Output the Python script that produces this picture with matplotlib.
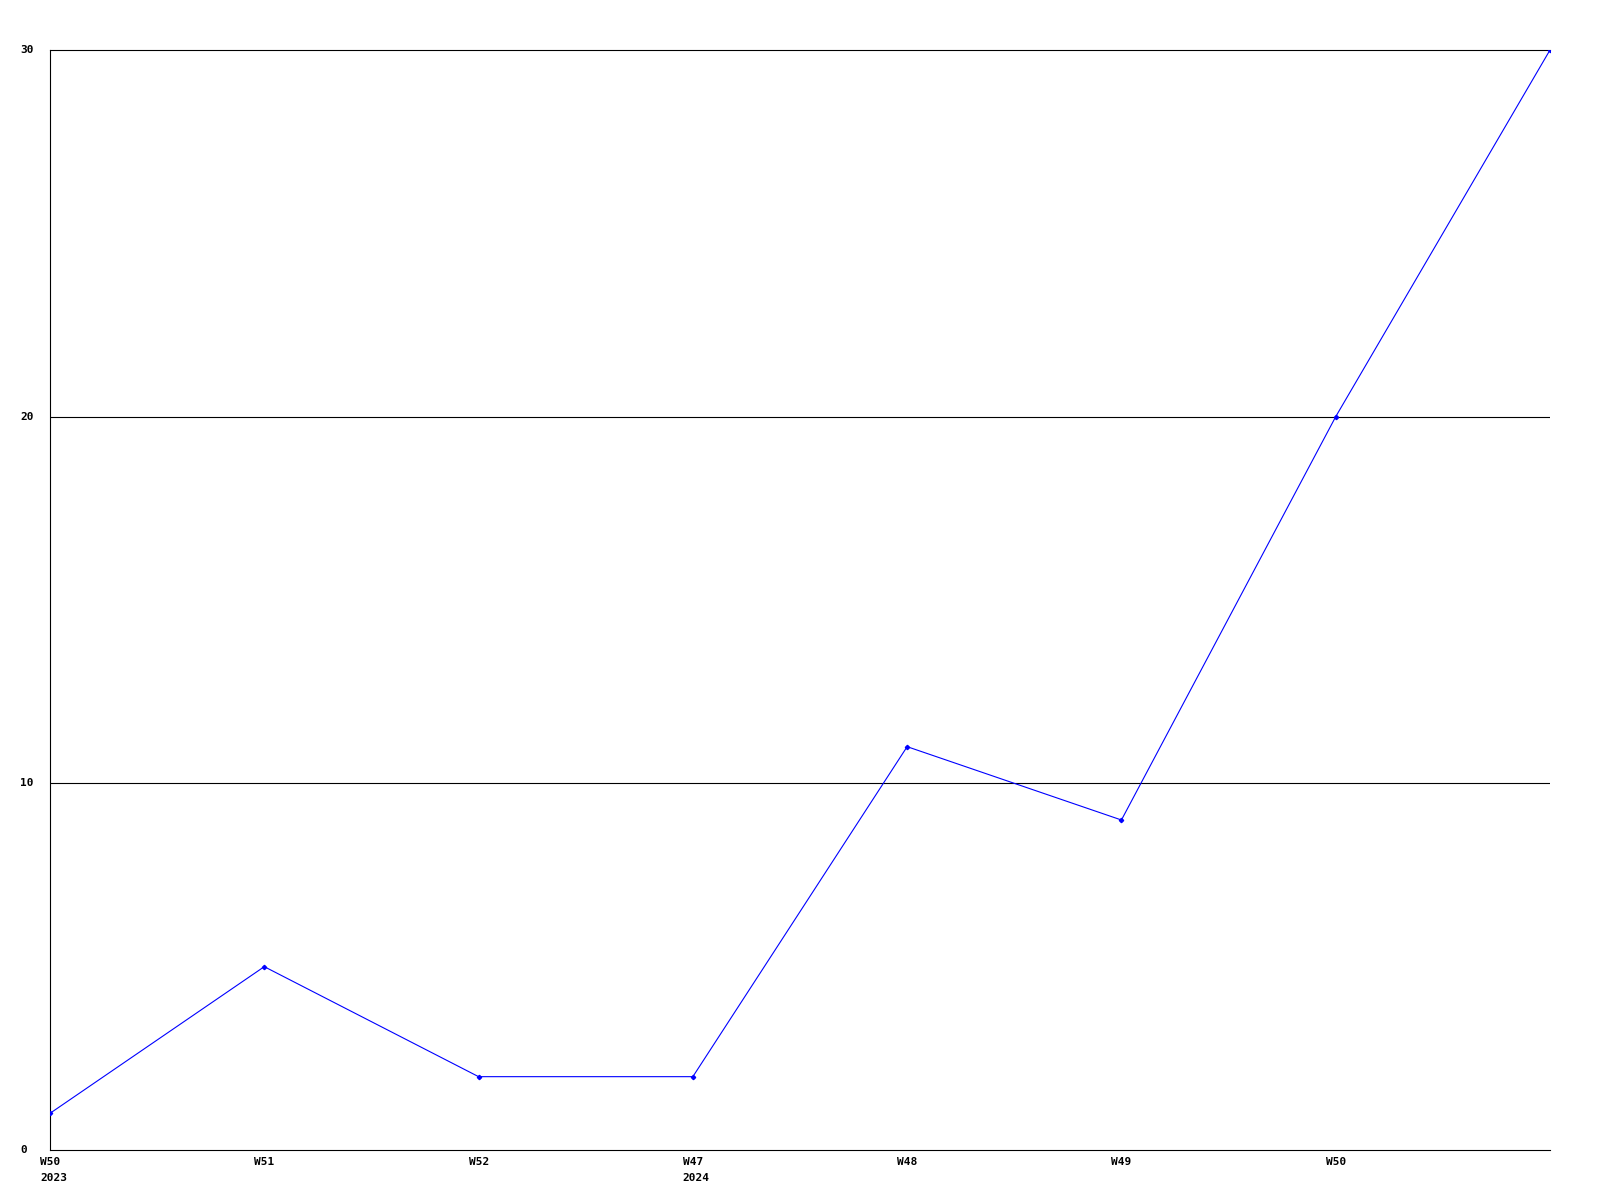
import matplotlib
matplotlib.use("Agg")
import matplotlib.pyplot as plt
import matplotlib.transforms as mtransforms

# ==========================================================
# DATA
# ==========================================================

week_labels = ["W50\n2023", "W51", "W52", "W47\n2024", "W48", "W49", "W50", ""]
values = [1, 5, 2, 2, 11, 9, 20, 30]
y_ticks = [0, 10, 20, 30]

W, H = 1600, 1200

# ==========================================================
# FIGURE
# ==========================================================

fig = plt.figure(figsize=(16, 12), dpi=100)
ax = fig.add_axes([50 / W, 1 - 1150 / H, 1500 / W, 1100 / H])

x = list(range(len(values)))

ax.plot(x, values, color="#0000ff", linewidth=0.8,
        marker="D", markersize=2.2, zorder=3)

ax.set_xlim(0, len(values) - 1)
ax.set_ylim(0, 30)

# gridlines
for t in y_ticks[1:-1]:
    ax.axhline(t, color="black", linewidth=0.8, zorder=1)

for side in ["left", "bottom", "top"]:
    ax.spines[side].set_linewidth(0.8)
    ax.spines[side].set_color("black")
ax.spines["right"].set_visible(False)

ax.set_xticks([])
ax.set_yticks([])

font = dict(family="DejaVu Sans Mono", weight="bold", size=8)

# y labels, left aligned at fixed x
ytrans = mtransforms.blended_transform_factory(fig.transFigure, ax.transData)
for t in y_ticks:
    ax.text(20 / W, t, str(t), transform=ytrans, ha="left", va="center",
            clip_on=False, **font)

# x labels, shifted left from their tick
xtrans = mtransforms.blended_transform_factory(ax.transData, fig.transFigure)
offset = mtransforms.ScaledTranslation(-10 / 100, 0, fig.dpi_scale_trans)
for xi, lab in zip(x, week_labels):
    if lab:
        ax.text(xi, 1 - 1157 / H, lab, transform=xtrans + offset,
                ha="left", va="top", linespacing=1.7, clip_on=False, **font)

fig.savefig("out.png", dpi=100)
